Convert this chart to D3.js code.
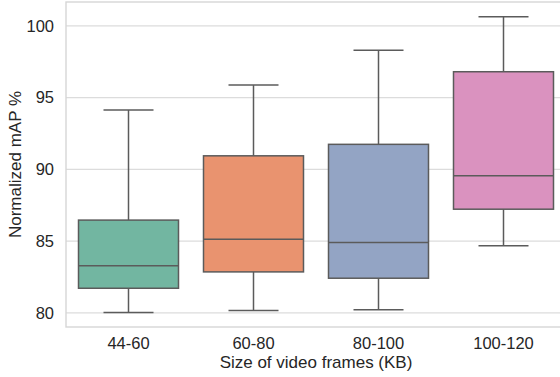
<!DOCTYPE html>
<html><head><meta charset="utf-8">
<script src="https://cdn.jsdelivr.net/npm/d3@7"></script>
<style>body{margin:0;background:#fff}svg{display:block}text{font-family:"Liberation Sans",Arial,sans-serif;fill:#262626}</style>
</head><body><svg id="c" width="560" height="377"></svg>
<script>
const categories = ["44-60","60-80","80-100","100-120"];
const whiskerLow = [80.03, 80.17, 80.23, 84.68];
const q1 = [81.72, 82.86, 82.42, 87.23];
const median = [83.28, 85.14, 84.91, 89.56];
const q3 = [86.47, 90.95, 91.75, 96.81];
const whiskerHigh = [94.14, 95.88, 98.30, 100.65];
const colors = ["#72b6a1","#e9936f","#93a4c4","#da92bf"];
const yTicks = [80, 85, 90, 95, 100];
const xTitle = "Size of video frames (KB)";
const yTitle = "Normalized mAP %";

const svg = d3.select("#c");
const L = 66, R = 566, T = 2, B = 327;
const x = d3.scaleBand().domain(categories).range([L, R]).paddingInner(0).paddingOuter(0);
const y = d3.scaleLinear().domain([79.02, 101.67]).range([B, T]);
const bw = x.bandwidth() * 0.8;

// grid
svg.append("g").selectAll("line").data(yTicks).join("line")
  .attr("x1", L).attr("x2", R).attr("y1", d => y(d)).attr("y2", d => y(d))
  .attr("stroke", "#dcdcdc").attr("stroke-width", 1.2);

// frame
svg.append("rect").attr("x", L).attr("y", T).attr("width", R - L).attr("height", B - T)
  .attr("fill", "none").attr("stroke", "#d6d6d6").attr("stroke-width", 1.4);

const data = categories.map((c, i) => ({c, lo: whiskerLow[i], q1: q1[i], med: median[i], q3: q3[i], hi: whiskerHigh[i], col: colors[i]}));
const g = svg.append("g").selectAll("g").data(data).join("g");
const lc = "#5b5b5b", lw = 1.5;
const cx = d => x(d.c) + x.bandwidth() / 2;
g.append("line").attr("x1", cx).attr("x2", cx).attr("y1", d => y(d.q3)).attr("y2", d => y(d.hi)).attr("stroke", lc).attr("stroke-width", lw);
g.append("line").attr("x1", cx).attr("x2", cx).attr("y1", d => y(d.q1)).attr("y2", d => y(d.lo)).attr("stroke", lc).attr("stroke-width", lw);
g.append("line").attr("x1", d => cx(d) - bw / 4).attr("x2", d => cx(d) + bw / 4).attr("y1", d => y(d.hi)).attr("y2", d => y(d.hi)).attr("stroke", lc).attr("stroke-width", lw);
g.append("line").attr("x1", d => cx(d) - bw / 4).attr("x2", d => cx(d) + bw / 4).attr("y1", d => y(d.lo)).attr("y2", d => y(d.lo)).attr("stroke", lc).attr("stroke-width", lw);
g.append("rect").attr("x", d => cx(d) - bw / 2).attr("width", bw)
  .attr("y", d => y(d.q3)).attr("height", d => y(d.q1) - y(d.q3))
  .attr("fill", d => d.col).attr("stroke", lc).attr("stroke-width", lw);
g.append("line").attr("x1", d => cx(d) - bw / 2).attr("x2", d => cx(d) + bw / 2).attr("y1", d => y(d.med)).attr("y2", d => y(d.med)).attr("stroke", lc).attr("stroke-width", lw);

// axes
const ya = d3.axisLeft(y).tickValues(yTicks).tickSize(0).tickPadding(12);
const yg = svg.append("g").attr("transform", `translate(${L},0)`).call(ya);
yg.select(".domain").remove();
yg.selectAll("text").attr("font-size", 16.5).attr("fill", "#262626");

const xa = d3.axisBottom(x).tickSize(0).tickPadding(10);
const xg = svg.append("g").attr("transform", `translate(0,${B})`).call(xa);
xg.select(".domain").remove();
xg.selectAll("text").attr("font-size", 16.5).attr("fill", "#262626");

svg.append("text").attr("x", 316).attr("y", 368).attr("text-anchor", "middle").attr("font-size", 17).text(xTitle);
svg.append("text").attr("transform", `translate(21,${(T + B) / 2}) rotate(-90)`).attr("text-anchor", "middle").attr("font-size", 17).text(yTitle);
</script></body></html>
